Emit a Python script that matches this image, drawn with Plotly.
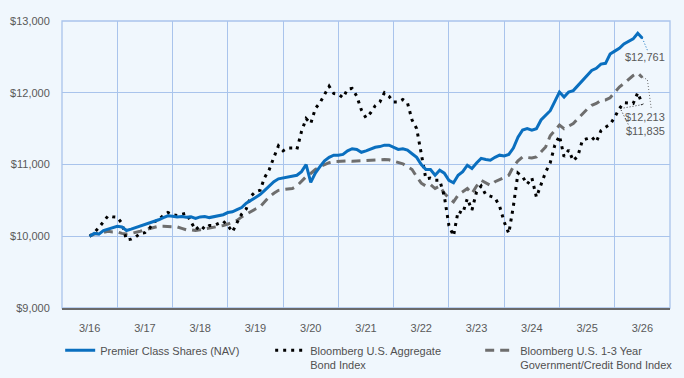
import plotly.graph_objects as go

tick_labels = ["3/16", "3/17", "3/18", "3/19", "3/20", "3/21", "3/22", "3/23", "3/24", "3/25", "3/26"]

premier_nav = [
    10000, 10040, 10030, 10080, 10100, 10120, 10140, 10130, 10080, 10100,
    10120, 10150, 10170, 10190, 10200, 10230, 10260, 10285, 10280, 10270,
    10275, 10265, 10270, 10250, 10270, 10275, 10260, 10270, 10290, 10300,
    10330, 10340, 10370, 10400, 10460, 10500, 10540, 10580, 10640, 10700,
    10760, 10800, 10810, 10830, 10840, 10850, 10900, 11000, 10750, 10880,
    10970, 11050, 11100, 11130, 11130, 11140, 11190, 11220, 11210, 11170,
    11190, 11220, 11240, 11250, 11270, 11270, 11240, 11210, 11220, 11200,
    11150, 11100, 11000, 10930, 10930, 10850, 10920, 10880, 10780, 10745,
    10850, 10900, 10990, 10945, 11020, 11085, 11070, 11060, 11100, 11130,
    11120, 11140, 11230, 11380, 11480, 11500, 11480, 11500, 11620, 11680,
    11750, 11880, 12010, 11940, 12010, 12030, 12100, 12170, 12250, 12310,
    12340, 12400, 12410, 12540, 12580, 12620, 12680, 12710, 12750, 12830,
    12761,
]

aggregate = [
    10000, 10050, 10120, 10200, 10285, 10270, 10265, 10180, 9950, 9960,
    9990, 10040, 10050, 10110, 10200, 10230, 10290, 10330, 10300, 10290,
    10300, 10320, 10200, 10090, 10150, 10100, 10150, 10150, 10180, 10210,
    10150, 10060, 10190, 10310, 10380, 10560, 10620, 10640, 10820, 10930,
    11100, 11260, 11190, 11230, 11230, 11210, 11460, 11640, 11570, 11780,
    11860, 11970, 12090, 11990, 11980, 11930, 12050, 12060, 11950, 11760,
    11650, 11720, 11820, 11870, 12000, 11950, 11870, 11870, 11905, 11860,
    11620, 11500, 11150, 10800, 10810, 10780, 10780, 10560, 10150, 10005,
    10350, 10320, 10525, 10365, 10620, 10700, 10580, 10560, 10535, 10420,
    10200, 10040, 10420, 10880, 10830, 10725, 10815, 10545, 10720, 10895,
    11025, 11270, 11400, 11110, 11200, 11050, 11120, 11340, 11360, 11385,
    11315, 11470, 11520, 11560, 11660, 11780, 11860, 11850, 11850, 12000,
    11835,
]

gov_credit_1_3 = [
    10000, 10030, 10040, 10060, 10070, 10060, 10060, 10040, 10030, 10040,
    10050, 10070, 10090, 10110, 10130, 10140, 10140, 10140, 10140, 10130,
    10110, 10090, 10090, 10080, 10090, 10100, 10120, 10130, 10140, 10150,
    10170, 10200, 10220, 10270, 10310, 10340, 10380, 10410, 10480, 10550,
    10600, 10640, 10650, 10660, 10665, 10700, 10760, 10830, 10875, 10930,
    10970, 11000, 11025, 11040, 11045, 11050, 11050, 11045, 11050, 11045,
    11055, 11060, 11070, 11070, 11070, 11065, 11050, 11035, 11010, 10970,
    10930, 10830, 10740, 10700, 10720, 10665, 10700, 10600, 10530, 10480,
    10575, 10620, 10665, 10595, 10700, 10780, 10740, 10710, 10760, 10790,
    10820, 10850, 10970, 11050, 11105, 11100, 11090, 11105, 11170, 11245,
    11400, 11480, 11550, 11500, 11540, 11570, 11640, 11710, 11770, 11825,
    11850, 11895, 11900, 11930, 12010, 12080, 12130, 12180, 12240, 12275,
    12213,
]

months = list(range(len(premier_nav)))

FONT = "Liberation Sans, Arial, sans-serif"
BLUE = "#0A6FBF"
GRAY = "#6E6E6E"
BLACK = "#000000"
GRID = "#A9C4EC"
BG = "#F0F7FD"

# plot geometry helpers (for leader lines only)
X_RANGE = [-6, 126]
Y_RANGE = [9000, 13000]
PLOT_W = 684 - 62 - 14
PLOT_H = 378 - 21 - 70
px_per_month = PLOT_W / (X_RANGE[1] - X_RANGE[0])
px_per_dollar = PLOT_H / (Y_RANGE[1] - Y_RANGE[0])


def leader(end_x, end_y, offsets):
    xs, ys = [end_x], [end_y]
    for dx, dy in offsets:
        xs.append(end_x + dx / px_per_month)
        ys.append(end_y - dy / px_per_dollar)
    return xs, ys


fig = go.Figure()

fig.add_trace(go.Scatter(
    x=months, y=gov_credit_1_3, mode="lines",
    name="Bloomberg U.S. 1-3 Year<br>Government/Credit Bond Index",
    line=dict(color=GRAY, width=3, dash="9px,6px"),
    legendrank=3, hoverinfo="skip",
))
fig.add_trace(go.Scatter(
    x=months, y=aggregate, mode="lines",
    name="Bloomberg U.S. Aggregate<br>Bond Index",
    line=dict(color=BLACK, width=3, dash="3px,5px"),
    legendrank=2, hoverinfo="skip",
))
fig.add_trace(go.Scatter(
    x=months, y=premier_nav, mode="lines",
    name="Premier Class Shares (NAV)",
    line=dict(color=BLUE, width=3),
    legendrank=1, hoverinfo="skip",
))

# leader lines to end labels
end_x = months[-1]
for series, color, offs in [
    (premier_nav, BLUE, [(5, 12)]),
    (gov_credit_1_3, GRAY, [(5, 2), (9, 32)]),
    (aggregate, "#333333", [(-22, 4), (-13, 22)]),
]:
    lx, ly = leader(end_x, series[-1], offs)
    fig.add_trace(go.Scatter(
        x=lx, y=ly, mode="lines", showlegend=False, hoverinfo="skip",
        line=dict(color=color, width=1, dash="1px,2px"),
    ))

for series, yshift in [(premier_nav, -19), (gov_credit_1_3, -39.5), (aggregate, -26.5)]:
    fig.add_annotation(
        x=end_x, y=series[-1], text="$" + format(series[-1], ","),
        showarrow=False, xanchor="right", yanchor="middle",
        xshift=25, yshift=yshift,
        font=dict(family=FONT, size=11, color="#595959"),
    )

# plot frame (light blue)
fig.add_shape(type="rect", xref="paper", yref="paper", x0=0, x1=1, y0=0, y1=1,
              line=dict(color=GRID, width=1.3), layer="below")

fig.update_layout(
    width=684, height=378,
    margin=dict(l=62, r=14, t=21, b=70, autoexpand=False),
    paper_bgcolor=BG, plot_bgcolor=BG,
    font=dict(family=FONT, size=11, color="#595959"),
    showlegend=True,
    legend=dict(
        orientation="h", x=-0.003, xanchor="left", y=-0.1, yanchor="top",
        font=dict(family=FONT, size=11, color="#505050"),
        entrywidth=165, entrywidthmode="pixels",
        valign="top", bgcolor="rgba(0,0,0,0)", itemwidth=30,
        traceorder="normal",
    ),
    xaxis=dict(
        range=X_RANGE, tickmode="array",
        tickvals=[12 * i for i in range(len(tick_labels))], ticktext=tick_labels,
        showgrid=False, zeroline=False,
        ticks="outside", ticklen=9, tickcolor="rgba(0,0,0,0)",
        showline=True, linecolor="#6A6A6A", linewidth=1.5,
        tickfont=dict(family=FONT, size=11, color="#595959"),
        minor=dict(tickvals=[-6 + 12 * i for i in range(12)], showgrid=True,
                   gridcolor=GRID, gridwidth=1.3, ticks=""),
        fixedrange=True,
    ),
    yaxis=dict(
        range=Y_RANGE, dtick=1000, tickformat="$,.0f",
        showgrid=True, gridcolor=GRID, gridwidth=1.3, zeroline=False,
        ticks="outside", ticklen=9, tickcolor="rgba(0,0,0,0)",
        showline=False,
        tickfont=dict(family=FONT, size=11, color="#595959"),
        fixedrange=True,
    ),
)

fig.write_html("out.html")
